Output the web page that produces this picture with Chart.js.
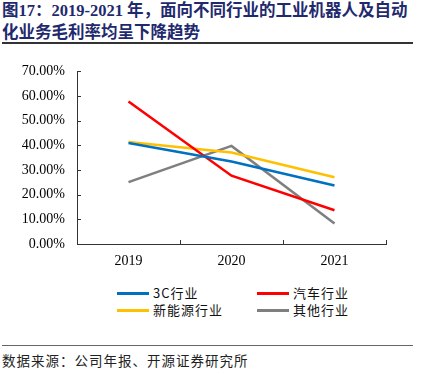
<!DOCTYPE html>
<html>
<head>
<meta charset="utf-8">
<script src="https://cdn.jsdelivr.net/npm/chart.js@4"></script>
<style>
  body{margin:0;width:429px;height:374px;background:#fff;position:relative;overflow:hidden;font-family:"Liberation Serif","Noto Sans CJK SC",serif}
  .title{position:absolute;left:2px;top:0px;white-space:nowrap;font-family:"Liberation Serif","Noto Sans CJK SC",serif;font-weight:bold;font-size:16.5px;line-height:22px;color:#1F2A6E}
  .rule{position:absolute;left:2px;width:411px;background:#333}
  .chartbox{position:absolute;left:0;top:51px;width:429px;height:219px}
  .legend{position:absolute;left:0;top:284px;width:429px;font-family:"Noto Sans CJK SC",sans-serif;font-size:13px;color:#111}
  .item{position:absolute;height:17px;line-height:17px;letter-spacing:1px}
  .item i{position:absolute;left:0;top:8px;width:32px;height:3px}
  .item span{position:absolute;left:36px;top:0;white-space:nowrap}
  .source{position:absolute;left:2px;top:350px;font-family:"Noto Sans CJK SC",sans-serif;font-size:13.5px;color:#222;letter-spacing:1px}
</style>
</head>
<body>
<div class="title">图17：2019-2021 年，面向不同行业的工业机器人及自动<br>化业务毛利率均呈下降趋势</div>
<div class="rule" style="top:42px;height:2px"></div>
<div class="chartbox"><canvas id="c"></canvas></div>
<div class="legend" id="legend"></div>
<div class="rule" style="top:345px;height:1px;background:#666"></div>
<div class="source">数据来源：公司年报、开源证券研究所</div>
<script>
const YEARS = ['2019','2020','2021'];
const SERIES_NAMES = ['3C行业','汽车行业','新能源行业','其他行业'];
const SERIES_COLORS = ['#0070C0','#FF0000','#FFC000','#7F7F7F'];
const V_3C = [41.0, 33.5, 23.7];
const V_CAR = [57.8, 27.7, 13.7];
const V_NEW_ENERGY = [41.4, 37.1, 27.1];
const V_OTHER = [25.1, 39.8, 8.3];
const SERIES_VALUES = [V_3C, V_CAR, V_NEW_ENERGY, V_OTHER];

// order of legend: 3C, 汽车 / 新能源, 其他
const LEGEND_POS = [[117,0],[257,0],[117,17],[257,17]];

// ticks pointing inward (into the plot area)
const innerTicks = {
  id:'innerTicks',
  afterDraw(chart){
    const {ctx, scales:{x, y}} = chart;
    ctx.save();
    ctx.strokeStyle = '#333';
    ctx.lineWidth = 1;
    ctx.beginPath();
    y.ticks.forEach((t,i)=>{
      const py = Math.round(y.getPixelForTick(i)) + 0.5;
      ctx.moveTo(x.left, py); ctx.lineTo(x.left + 4, py);
    });
    const n = x.ticks.length;
    const w = x.width / n;
    for(let i=0;i<=n;i++){
      const px = Math.round(x.left + w*i) + 0.5;
      ctx.moveTo(px, y.bottom); ctx.lineTo(px, y.bottom - 4);
    }
    ctx.stroke();
    ctx.restore();
  }
};

new Chart(document.getElementById('c'),{
  type:'line',
  data:{
    labels:YEARS,
    datasets:SERIES_NAMES.map((name,i)=>({
      label:name,
      data:SERIES_VALUES[i],
      borderColor:SERIES_COLORS[i],
      backgroundColor:SERIES_COLORS[i],
      borderWidth:2.6,
      pointRadius:0,
      tension:0,
      fill:false
    }))
  },
  options:{
    responsive:true,
    maintainAspectRatio:false,
    animation:false,
    layout:{padding:{left:0,right:43,top:1,bottom:0}},
    plugins:{legend:{display:false},tooltip:{enabled:false}},
    scales:{
      x:{
        offset:true,
        grid:{display:false,drawTicks:false},
        border:{display:true,color:'#333',width:1},
        ticks:{color:'#000',font:{family:'"Liberation Serif", serif',size:14},padding:9},
        afterFit(s){ s.height = 26; }
      },
      y:{
        min:0,max:70,
        grid:{display:false,drawTicks:false},
        border:{display:true,color:'#333',width:1},
        ticks:{stepSize:10,color:'#000',font:{family:'"Liberation Serif", serif',size:14},padding:12,
          callback:v=>v.toFixed(2)+'%'},
        afterFit(s){ s.width = 77; }
      }
    }
  },
  plugins:[innerTicks]
});

document.getElementById('legend').innerHTML = SERIES_NAMES.map((name,i)=>
  `<div class="item" style="left:${LEGEND_POS[i][0]}px;top:${LEGEND_POS[i][1]}px"><i style="background:${SERIES_COLORS[i]}"></i><span>${name}</span></div>`
).join('');
</script>
</body>
</html>
